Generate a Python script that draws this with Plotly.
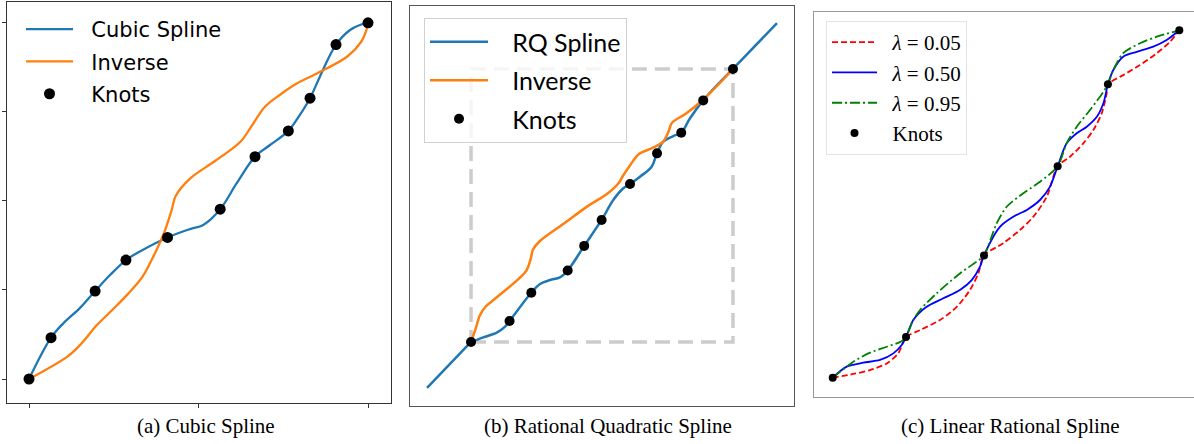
import plotly.graph_objects as go

# ---------------- Panel (a): Cubic spline ----------------
a_knot_x = [0.0, 0.065, 0.195, 0.286, 0.4086, 0.564, 0.6667, 0.765, 0.829, 0.9056, 1.0]
a_knot_y = [0.0, 0.116, 0.247, 0.334, 0.3975, 0.4767, 0.6244, 0.6966, 0.7885, 0.939, 1.0]
a_curve_x = [0.0, 0.065, 0.101, 0.150, 0.195, 0.239, 0.286, 0.327, 0.4086, 0.475, 0.514, 0.564,
             0.6127, 0.6667, 0.711, 0.765, 0.799, 0.829, 0.858, 0.9056, 0.947, 0.976, 1.0]
a_curve_y = [0.0, 0.116, 0.156, 0.199, 0.247, 0.292, 0.334, 0.358, 0.3975, 0.421, 0.4326, 0.4767,
             0.5497, 0.6244, 0.657, 0.6966, 0.7416, 0.7885, 0.849, 0.939, 0.980, 0.994, 1.0]
a_xticks = [0, 0.5, 1]
a_yticks = [0, 0.25, 0.5, 0.75, 1]

# ---------------- Panel (b): Rational quadratic spline ----------------
b_bound = 1.0
b_tail = 1.336
b_knot_x = [-1.0, -0.706, -0.54, -0.262, -0.136, -0.003, 0.214, 0.420, 0.605, 0.773, 1.0]
b_knot_y = [-1.0, -0.846, -0.639, -0.476, -0.296, -0.106, 0.158, 0.382, 0.533, 0.770, 1.0]
b_curve_x = [-1.0, -0.906, -0.804, -0.740, -0.706, -0.54, -0.473, -0.397, -0.321, -0.262, -0.136,
             -0.003, 0.086, 0.163, 0.214, 0.290, 0.379, 0.420, 0.468, 0.544, 0.605, 0.672, 0.773, 1.0]
b_curve_y = [-1.0, -0.966, -0.932, -0.888, -0.846, -0.639, -0.575, -0.546, -0.526, -0.476, -0.296,
             -0.106, 0.040, 0.126, 0.158, 0.211, 0.284, 0.382, 0.467, 0.509, 0.533, 0.639, 0.770, 1.0]

# ---------------- Panel (c): Linear rational spline ----------------
c_knot_x = [0.0, 0.2115, 0.4365, 0.649, 0.794, 1.0]
c_knot_y = [0.0, 0.117, 0.352, 0.6085, 0.8445, 1.0]
c_l005_x = [0.0, 0.0595, 0.1076, 0.156, 0.189, 0.2115, 0.252, 0.3096, 0.358, 0.396, 0.420, 0.4365,
            0.492, 0.540, 0.579, 0.6175, 0.649, 0.6846, 0.723, 0.752, 0.776, 0.7905, 0.794,
            0.838, 0.8866, 0.935, 0.973, 1.0]
c_l005_y = [0.0, 0.0107, 0.022, 0.041, 0.070, 0.117, 0.137, 0.166, 0.204, 0.2525, 0.300, 0.352,
            0.387, 0.425, 0.4635, 0.521, 0.6085, 0.636, 0.6747, 0.713, 0.761, 0.8187, 0.8445,
            0.871, 0.900, 0.934, 0.967, 1.0]
c_l050_x = [0.0, 0.0404, 0.0883, 0.1365, 0.175, 0.199, 0.2115, 0.2325, 0.271, 0.319, 0.367, 0.401,
            0.425, 0.4365, 0.483, 0.521, 0.560, 0.598, 0.627, 0.649, 0.675, 0.704, 0.733, 0.762,
            0.781, 0.794, 0.8096, 0.838, 0.877, 0.925, 0.9636, 1.0]
c_l050_y = [0.0, 0.0317, 0.0432, 0.051, 0.070, 0.094, 0.117, 0.166, 0.204, 0.2285, 0.2525, 0.281,
            0.3195, 0.352, 0.435, 0.4635, 0.483, 0.5115, 0.550, 0.6085, 0.6747, 0.7035, 0.7225,
            0.751, 0.790, 0.8445, 0.8857, 0.924, 0.938, 0.953, 0.972, 1.0]
c_l095_x = [0.0, 0.0595, 0.1076, 0.156, 0.199, 0.2115, 0.2325, 0.252, 0.300, 0.367, 0.415, 0.4365,
            0.473, 0.502, 0.550, 0.598, 0.649, 0.675, 0.704, 0.7424, 0.781, 0.794, 0.8096, 0.838,
            0.8866, 0.935, 1.0]
c_l095_y = [0.0, 0.046, 0.072, 0.089, 0.105, 0.117, 0.166, 0.195, 0.243, 0.300, 0.334, 0.352,
            0.444, 0.492, 0.531, 0.564, 0.6085, 0.6747, 0.7225, 0.7706, 0.823, 0.8445, 0.8857,
            0.934, 0.9626, 0.9816, 1.0]

TAB_BLUE = "#1f77b4"
TAB_ORANGE = "#ff7f0e"
NB = "\u00a0"

fig = go.Figure()

# ---- (a)
fig.add_trace(go.Scatter(x=a_curve_x, y=a_curve_y, mode="lines", name=NB * 2 + "Cubic Spline",
                         line=dict(color=TAB_BLUE, width=2.3, shape="spline", smoothing=1),
                         legend="legend", legendgroup="a1", xaxis="x", yaxis="y"))
fig.add_trace(go.Scatter(x=a_curve_y, y=a_curve_x, mode="lines", name=NB * 2 + "Inverse",
                         line=dict(color=TAB_ORANGE, width=2.3, shape="spline", smoothing=1),
                         legend="legend", legendgroup="a2", xaxis="x", yaxis="y"))
fig.add_trace(go.Scatter(x=a_knot_x, y=a_knot_y, mode="markers", name=NB * 2 + "Knots",
                         marker=dict(color="black", size=11),
                         legend="legend", legendgroup="a3", xaxis="x", yaxis="y"))

# ---- (b)
fig.add_trace(go.Scatter(x=[-b_bound, b_bound, b_bound, -b_bound, -b_bound],
                         y=[-b_bound, -b_bound, b_bound, b_bound, -b_bound], mode="lines",
                         line=dict(color="rgba(195,195,195,0.85)", width=3.5, dash="15px,8px"),
                         showlegend=False, hoverinfo="skip", xaxis="x2", yaxis="y2"))
fig.add_trace(go.Scatter(x=[-b_tail, -b_bound, None, b_bound, b_tail],
                         y=[-b_tail, -b_bound, None, b_bound, b_tail], mode="lines",
                         line=dict(color=TAB_BLUE, width=2.5), showlegend=False,
                         legend="legend2", legendgroup="b1", xaxis="x2", yaxis="y2"))
fig.add_trace(go.Scatter(x=b_curve_x, y=b_curve_y, mode="lines", name=NB * 3 + "RQ Spline",
                         line=dict(color=TAB_BLUE, width=2.5, shape="spline", smoothing=1),
                         legend="legend2", legendgroup="b1", xaxis="x2", yaxis="y2"))
fig.add_trace(go.Scatter(x=b_curve_y, y=b_curve_x, mode="lines", name=NB * 3 + "Inverse",
                         line=dict(color=TAB_ORANGE, width=2.5, shape="spline", smoothing=1),
                         legend="legend2", legendgroup="b2", xaxis="x2", yaxis="y2"))
fig.add_trace(go.Scatter(x=b_knot_x, y=b_knot_y, mode="markers", name=NB * 3 + "Knots",
                         marker=dict(color="black", size=10),
                         legend="legend2", legendgroup="b3", xaxis="x2", yaxis="y2"))

# ---- (c)
fig.add_trace(go.Scatter(x=c_l005_x, y=c_l005_y, mode="lines", name=NB * 2 + "<i>λ</i> = 0.05",
                         line=dict(color="#ff0000", width=1.8, dash="6px,3px", shape="spline", smoothing=0.8),
                         legend="legend3", legendgroup="c1", xaxis="x3", yaxis="y3"))
fig.add_trace(go.Scatter(x=c_l050_x, y=c_l050_y, mode="lines", name=NB * 2 + "<i>λ</i> = 0.50",
                         line=dict(color="#0000ff", width=1.8, shape="spline", smoothing=0.8),
                         legend="legend3", legendgroup="c2", xaxis="x3", yaxis="y3"))
fig.add_trace(go.Scatter(x=c_l095_x, y=c_l095_y, mode="lines", name=NB * 2 + "<i>λ</i> = 0.95",
                         line=dict(color="#008000", width=1.8, dash="10px,3px,2px,3px", shape="spline", smoothing=0.8),
                         legend="legend3", legendgroup="c3", xaxis="x3", yaxis="y3"))
fig.add_trace(go.Scatter(x=c_knot_x, y=c_knot_y, mode="markers", name=NB * 2 + "Knots",
                         marker=dict(color="black", size=8),
                         legend="legend3", legendgroup="c4", xaxis="x3", yaxis="y3"))

W, H = 1194, 444


def px_x(p):
    return p / W


def px_y(p):
    return 1 - p / H


def frame(color, **kw):
    d = dict(showgrid=False, zeroline=False, showline=True, linecolor=color, linewidth=1,
             mirror=True, showticklabels=False, ticks="")
    d.update(kw)
    return d


fig.update_layout(
    width=W, height=H, margin=dict(l=0, r=0, t=0, b=0),
    paper_bgcolor="white", plot_bgcolor="white",
    xaxis=frame("#333333", domain=[px_x(7), px_x(391)], range=[-0.0649, 1.0678],
                ticks="outside", ticklen=4, tickcolor="#333333", tickvals=a_xticks, anchor="y"),
    yaxis=frame("#333333", domain=[px_y(403), px_y(1.5)], range=[-0.0674, 1.060],
                ticks="outside", ticklen=4, tickcolor="#333333", tickvals=a_yticks, anchor="x"),
    xaxis2=frame("#555555", domain=[px_x(410), px_x(794)], range=[-1.466, 1.466], anchor="y2"),
    yaxis2=frame("#555555", domain=[px_y(406), px_y(6)], range=[-1.469, 1.4615], anchor="x2"),
    xaxis3=frame("#999999", domain=[px_x(814), 1.0], range=[-0.054, 1.0424], anchor="y3"),
    yaxis3=frame("#999999", domain=[px_y(397), px_y(12)], range=[-0.0556, 1.0527], anchor="x3",
                 mirror=False, side="left"),
    legend=dict(x=px_x(21), y=px_y(9), xanchor="left", yanchor="top",
                font=dict(family="DejaVu Sans", size=21, color="black"),
                bgcolor="rgba(255,255,255,0)", borderwidth=0, itemwidth=47,
                traceorder="grouped", tracegroupgap=2),
    legend2=dict(x=px_x(424), y=px_y(18), xanchor="left", yanchor="top",
                 font=dict(family="Lato", size=25, color="black"),
                 bgcolor="rgba(255,255,255,0.8)", bordercolor="#d0d0d0", borderwidth=1, itemwidth=58,
                 traceorder="grouped", tracegroupgap=3),
    legend3=dict(x=px_x(826), y=px_y(21), xanchor="left", yanchor="top",
                 font=dict(family="Liberation Serif", size=21, color="black"),
                 bgcolor="rgba(255,255,255,0.8)", bordercolor="#e3e3e3", borderwidth=1, itemwidth=45,
                 traceorder="grouped", tracegroupgap=0),
    annotations=[
        dict(text="(a) Cubic Spline", x=px_x(206), y=px_y(426), xref="paper", yref="paper",
             showarrow=False, xanchor="center", yanchor="middle",
             font=dict(family="Liberation Serif", size=21, color="black")),
        dict(text="(b) Rational Quadratic Spline", x=px_x(608), y=px_y(426), xref="paper", yref="paper",
             showarrow=False, xanchor="center", yanchor="middle",
             font=dict(family="Liberation Serif", size=21, color="black")),
        dict(text="(c) Linear Rational Spline", x=px_x(1010), y=px_y(426), xref="paper", yref="paper",
             showarrow=False, xanchor="center", yanchor="middle",
             font=dict(family="Liberation Serif", size=21, color="black")),
    ],
)

fig.write_html(
    "out.html",
    config={"displayModeBar": False},
    post_script="document.body.style.margin='0';document.body.style.overflow='hidden';",
)
